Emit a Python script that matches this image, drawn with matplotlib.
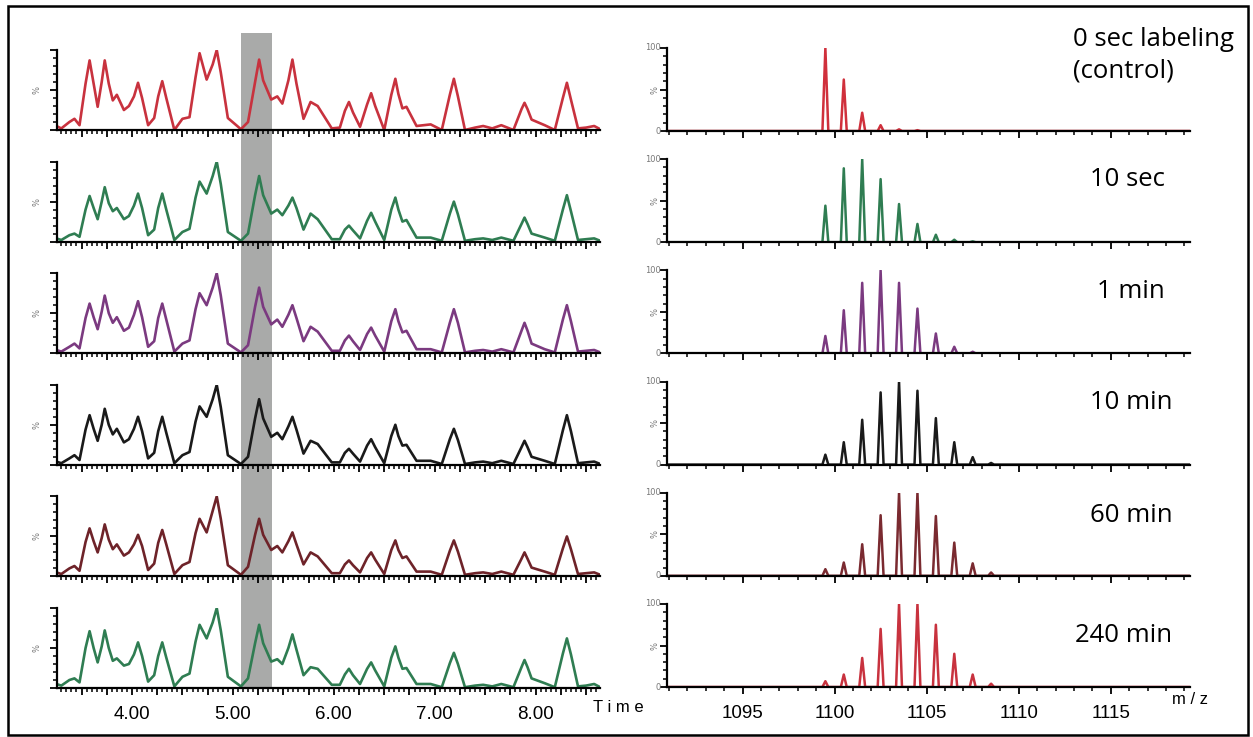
import matplotlib
matplotlib.use('Agg')
import matplotlib.pyplot as plt
from matplotlib.ticker import MultipleLocator, FuncFormatter
from matplotlib.patches import Rectangle

# ---- data ----
labels = ['0 sec labeling\n(control)', '10 sec', '1 min', '10 min', '60 min', '240 min']
chrom_colors = ['#c8323e', '#2f7d52', '#7b3a80', '#1a1a1a', '#6e2329', '#2f7d52']
spec_colors = ['#d0303c', '#2f7d52', '#7b3a80', '#1a1a1a', '#7a2a30', '#c8323e']

# chromatogram vertices (retention time, min) and relative intensity per panel
rt = [3.25, 3.30, 3.38, 3.43, 3.48,
      3.54, 3.58, 3.62, 3.66, 3.70, 3.73, 3.77, 3.81, 3.85, 3.92, 3.97,
      4.02, 4.06, 4.10, 4.16, 4.22, 4.26, 4.30, 4.34, 4.42, 4.50, 4.57,
      4.63, 4.67, 4.74, 4.80, 4.84, 4.88, 4.95, 5.08, 5.15,
      5.22, 5.26, 5.30, 5.38, 5.44, 5.49, 5.55, 5.59, 5.63, 5.70,
      5.77, 5.84, 5.98, 6.06, 6.11, 6.15, 6.19, 6.26, 6.33, 6.37, 6.41,
      6.50, 6.57, 6.61, 6.64, 6.68, 6.72, 6.82, 6.96, 7.07,
      7.15, 7.19, 7.23, 7.30, 7.40, 7.48, 7.57, 7.66, 7.78,
      7.86, 7.89, 7.92, 7.96, 8.09, 8.19, 8.27, 8.31, 8.35, 8.42, 8.50, 8.58, 8.64]

int_0s = [.05, .02, .10, .14, .06,
          .58, .87, .58, .29, .60, .87, .58, .37, .44, .25, .30,
          .42, .59, .40, .06, .15, .42, .61, .40, .00, .14, .16,
          .66, .96, .63, .82, 1.0, .72, .15, .01, .10,
          .60, .88, .62, .38, .42, .33, .62, .88, .58, .14,
          .35, .30, .02, .03, .24, .35, .22, .04, .32, .46, .30,
          .00, .44, .64, .45, .27, .29, .05, .07, .00,
          .44, .64, .42, .00, .03, .05, .02, .06, .00,
          .26, .34, .26, .13, .06, .00, .40, .59, .38, .02, .03, .05, .01]
int_10s = [.04, .02, .08, .10, .06,
           .40, .57, .42, .28, .50, .68, .48, .38, .42, .28, .32,
           .45, .60, .42, .08, .15, .42, .60, .40, .02, .12, .16,
           .55, .75, .60, .82, 1.0, .72, .12, .01, .10,
           .58, .82, .58, .35, .40, .33, .45, .55, .42, .15,
           .35, .28, .03, .03, .15, .20, .14, .04, .26, .36, .25,
           .02, .40, .55, .40, .25, .27, .05, .05, .01,
           .35, .50, .34, .01, .03, .04, .02, .05, .01,
           .22, .30, .22, .10, .05, .01, .40, .58, .38, .02, .03, .04, .01]
int_1m = [.04, .02, .08, .12, .06,
          .44, .62, .45, .30, .52, .72, .50, .38, .45, .28, .32,
          .48, .65, .45, .08, .15, .44, .62, .42, .02, .12, .16,
          .55, .75, .60, .82, 1.0, .72, .12, .01, .10,
          .58, .82, .58, .36, .42, .33, .48, .60, .44, .15,
          .33, .27, .03, .03, .16, .22, .15, .04, .24, .32, .22,
          .02, .40, .55, .40, .26, .28, .05, .05, .01,
          .38, .55, .38, .01, .03, .04, .02, .05, .01,
          .28, .38, .28, .12, .05, .01, .42, .60, .40, .02, .03, .04, .01]
int_10m = [.04, .02, .08, .12, .06,
           .44, .62, .45, .30, .50, .70, .50, .38, .45, .28, .32,
           .45, .60, .42, .08, .15, .42, .60, .40, .02, .12, .16,
           .54, .73, .60, .82, 1.0, .72, .12, .01, .10,
           .58, .82, .58, .35, .40, .32, .48, .60, .44, .14,
           .30, .26, .03, .03, .15, .20, .14, .04, .24, .32, .22,
           .02, .36, .50, .36, .24, .25, .05, .05, .01,
           .32, .45, .31, .01, .03, .04, .02, .05, .01,
           .22, .30, .22, .10, .05, .01, .43, .62, .42, .02, .03, .04, .01]
int_60m = [.05, .03, .10, .13, .07,
           .43, .60, .44, .30, .48, .65, .46, .34, .40, .26, .30,
           .40, .52, .38, .08, .16, .42, .58, .40, .03, .14, .18,
           .54, .72, .55, .82, 1.0, .72, .14, .02, .12,
           .52, .72, .52, .33, .38, .30, .44, .55, .40, .15,
           .30, .25, .04, .04, .15, .20, .14, .05, .23, .30, .21,
           .03, .33, .45, .33, .23, .25, .06, .06, .02,
           .32, .45, .31, .02, .04, .05, .03, .06, .02,
           .22, .30, .22, .11, .06, .02, .35, .50, .34, .03, .04, .05, .02]
int_240m = [.05, .03, .10, .12, .07,
            .50, .71, .50, .32, .52, .72, .50, .34, .37, .28, .30,
            .42, .57, .40, .08, .16, .40, .57, .38, .02, .14, .18,
            .58, .79, .62, .82, 1.0, .72, .14, .02, .12,
            .56, .79, .56, .33, .36, .30, .50, .67, .48, .16,
            .26, .24, .04, .04, .17, .24, .16, .05, .24, .32, .22,
            .02, .38, .52, .38, .24, .25, .05, .05, .01,
            .31, .44, .30, .01, .03, .04, .02, .05, .01,
            .26, .35, .26, .12, .06, .01, .43, .62, .42, .02, .03, .05, .01]
chrom = [int_0s, int_10s, int_1m, int_10m, int_60m, int_240m]

# isotope peaks (m/z) and relative abundance (%) per panel
mz = [1099.5, 1100.5, 1101.5, 1102.5, 1103.5, 1104.5, 1105.5, 1106.5, 1107.5, 1108.5]
ab_0s = [100, 62, 22, 7, 2, 1, 0, 0, 0, 0]
ab_10s = [44, 89, 100, 76, 46, 22, 9, 3, 1, 0]
ab_1m = [21, 52, 85, 100, 85, 54, 24, 8, 2, 0]
ab_10m = [12, 27, 54, 87, 100, 89, 56, 27, 9, 2]
ab_60m = [8, 16, 38, 73, 100, 100, 72, 40, 15, 4]
ab_240m = [7, 15, 35, 70, 100, 100, 75, 40, 15, 4]
spectra = [ab_0s, ab_10s, ab_1m, ab_10m, ab_60m, ab_240m]

band = (5.08, 5.39)   # highlighted peak window
rt_lim = (3.257, 8.638)
mz_lim = (1090.9, 1119.3)

W, H = 1253, 737
fig = plt.figure(figsize=(W / 100, H / 100), dpi=100)


def box(x0, y0, x1, y1):
    # pixel rectangle -> figure fraction
    return [x0 / W, 1 - y1 / H, (x1 - x0) / W, (y1 - y0) / H]


tick_font = {'family': 'Liberation Sans', 'size': 13.5}

# grey band behind the chromatograms
bg = fig.add_axes(box(57, 33, 600, 688), zorder=0)
bg.set_xlim(*rt_lim)
bg.axvspan(band[0], band[1], color='#a9aaa9', lw=0)
bg.axis('off')

for i in range(6):
    # ---- chromatogram ----
    top = 50 + 111.6 * i
    ax = fig.add_axes(box(57, top, 600, top + 80), zorder=2)
    ax.set_facecolor('none')
    ax.plot(rt, chrom[i], color=chrom_colors[i], lw=1.9, solid_joinstyle='round')
    ax.set_xlim(*rt_lim)
    ax.set_ylim(0, 1.0)
    for s in ['top', 'right']:
        ax.spines[s].set_visible(False)
    for s in ['left', 'bottom']:
        ax.spines[s].set_linewidth(1.6)
    ax.xaxis.set_major_locator(MultipleLocator(0.25))
    ax.xaxis.set_minor_locator(MultipleLocator(0.05))
    ax.yaxis.set_major_locator(MultipleLocator(0.5))
    ax.yaxis.set_minor_locator(MultipleLocator(0.1))
    ax.tick_params(axis='both', which='major', length=5, width=1.3, direction='out')
    ax.tick_params(axis='both', which='minor', length=3, width=1.1, direction='out')
    ax.set_yticklabels([])
    ax.text(-0.036, 0.5, '%', transform=ax.transAxes, rotation=90, fontsize=6,
            color='#777777', ha='center', va='center')
    if i == 5:
        ax.xaxis.set_major_formatter(FuncFormatter(
            lambda v, p: '%.2f' % v if abs(v - round(v)) < 1e-6 else ''))
        ax.tick_params(axis='x', which='major', pad=8)
        for lab in ax.get_xticklabels():
            lab.set_fontproperties(tick_font)
    else:
        ax.set_xticklabels([])

    # ---- mass spectrum ----
    top = 48 + 111.2 * i
    sx = fig.add_axes(box(667, top, 1190, top + 83), zorder=2)
    sx.set_facecolor('none')
    xs = [mz_lim[0]]
    ys = [0]
    for m, a in zip(mz, spectra[i]):
        xs += [m - 0.16, m, m + 0.16]
        ys += [0, a, 0]
    xs.append(mz_lim[1])
    ys.append(0)
    sx.plot(xs, ys, color=spec_colors[i], lw=1.8)
    sx.set_xlim(*mz_lim)
    sx.set_ylim(0, 100)
    for s in ['top', 'right']:
        sx.spines[s].set_visible(False)
    for s in ['left', 'bottom']:
        sx.spines[s].set_linewidth(1.6)
    sx.xaxis.set_major_locator(MultipleLocator(5))
    sx.xaxis.set_minor_locator(MultipleLocator(1))
    sx.yaxis.set_major_locator(MultipleLocator(50))
    sx.yaxis.set_minor_locator(MultipleLocator(10))
    sx.tick_params(axis='both', which='major', length=5, width=1.3, direction='out')
    sx.tick_params(axis='both', which='minor', length=3, width=1.1, direction='out')
    sx.set_yticklabels([])
    for yv, t in [(100, '100'), (0, '0')]:
        sx.text(-0.012, yv, t, transform=sx.get_yaxis_transform(), fontsize=6,
                color='#777777', ha='right', va='center')
    sx.text(-0.014, 50, '%', transform=sx.get_yaxis_transform(), rotation=90,
            fontsize=6, color='#777777', ha='right', va='center')
    if i == 5:
        sx.xaxis.set_major_formatter(FuncFormatter(lambda v, p: '%d' % v))
        sx.tick_params(axis='x', which='major', pad=8)
        for lab in sx.get_xticklabels():
            lab.set_fontproperties(tick_font)
    else:
        sx.set_xticklabels([])

# time point labels
label_pos = [(1073, 55), (1090, 180), (1097, 292), (1090, 403), (1090, 515), (1075, 635)]
for (x, y), t in zip(label_pos, labels):
    fig.text(x / W, 1 - y / H, t, fontsize=18.5, family='Open Sans',
             ha='left', va='center', linespacing=1.35)

fig.text(593 / W, 1 - 708 / H, 'T i m e', fontsize=12, family='Liberation Sans',
         ha='left', va='center')
fig.text(1172 / W, 1 - 700 / H, 'm / z', fontsize=12, family='Liberation Sans',
         ha='left', va='center')

# outer frame
fig.patches.append(Rectangle((7.5 / W, 1 - 735 / H), 1240.5 / W, 729 / H,
                             transform=fig.transFigure, fill=False,
                             lw=1.8, edgecolor='black'))

fig.savefig('out.png', dpi=100)
